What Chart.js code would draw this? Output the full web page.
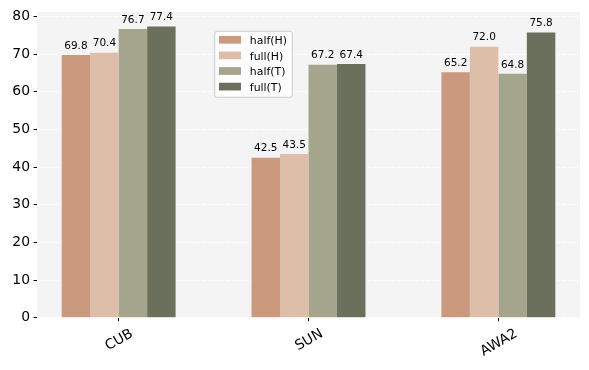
<!DOCTYPE html>
<html>
<head>
<meta charset="utf-8">
<script src="https://cdn.jsdelivr.net/npm/chart.js@4/dist/chart.umd.min.js"></script>
<style>
  html, body { margin: 0; padding: 0; background: #ffffff; }
  #wrap { width: 589px; height: 370px; }
</style>
</head>
<body>
<div id="wrap"><canvas id="c" width="589" height="370"></canvas></div>
<script>
// ---- data ----
const categories = ['CUB', 'SUN', 'AWA2'];
const seriesNames = ['half(H)', 'full(H)', 'half(T)', 'full(T)'];
const halfH = [69.8, 42.5, 65.2];
const fullH = [70.4, 43.5, 72.0];
const halfT = [76.7, 67.2, 64.8];
const fullT = [77.4, 67.4, 75.8];
const yTicks = [0, 10, 20, 30, 40, 50, 60, 70, 80];
const seriesColors = ['#CB997E', '#DDBEA9', '#A5A58D', '#6B705C'];

const seriesValues = [halfH, fullH, halfT, fullT];
const FONT = "'DejaVu Sans', sans-serif";

const datasets = seriesNames.map((name, s) => ({
  label: name,
  data: seriesValues[s].map((v, i) => ({ x: i, y: v })),
  backgroundColor: seriesColors[s],
  borderWidth: 0,
  categoryPercentage: 0.6,
  barPercentage: 1.0
}));

const plotBg = {
  id: 'plotBg',
  beforeDraw(chart) {
    const { ctx, chartArea: a } = chart;
    ctx.save();
    ctx.fillStyle = '#f4f4f4';
    ctx.fillRect(a.left, a.top, a.right - a.left, a.bottom - a.top);
    ctx.restore();
  }
};

const valueLabels = {
  id: 'valueLabels',
  afterDatasetsDraw(chart) {
    const ctx = chart.ctx;
    ctx.save();
    ctx.font = '10.5px ' + FONT;
    ctx.fillStyle = '#000';
    ctx.textAlign = 'center';
    ctx.textBaseline = 'alphabetic';
    chart.data.datasets.forEach((ds, di) => {
      const meta = chart.getDatasetMeta(di);
      meta.data.forEach((el, i) => {
        ctx.fillText(ds.data[i].y.toFixed(1), el.x, el.y - 6.3);
      });
    });
    ctx.restore();
  }
};

const xLabels = {
  id: 'xLabels',
  afterDraw(chart) {
    const ctx = chart.ctx;
    const xs = chart.scales.x;
    const size = 13.9;
    ctx.save();
    ctx.font = size + 'px ' + FONT;
    ctx.fillStyle = '#000';
    ctx.textAlign = 'center';
    ctx.textBaseline = 'alphabetic';
    const ang = 30 * Math.PI / 180;
    const asc = 0.928 * size, desc = 0.236 * size;
    const h = asc + desc;
    const top = chart.chartArea.bottom + 3.5 + 3.5;
    categories.forEach((lab, i) => {
      const w = ctx.measureText(lab).width;
      const H = w * Math.sin(ang) + h * Math.cos(ang);
      const cx = xs.getPixelForValue(i);
      const cy = top + H / 2;
      ctx.save();
      ctx.translate(cx, cy);
      ctx.rotate(-ang);
      ctx.fillText(lab, 0, (asc - desc) / 2);
      ctx.restore();
    });
    ctx.restore();
  }
};

const customLegend = {
  id: 'customLegend',
  afterDraw(chart) {
    const ctx = chart.ctx;
    const x0 = 214.7, y0 = 31.3, w = 77.6, hgt = 66;
    ctx.save();
    ctx.beginPath();
    const r = 2.5;
    ctx.moveTo(x0 + r, y0);
    ctx.arcTo(x0 + w, y0, x0 + w, y0 + hgt, r);
    ctx.arcTo(x0 + w, y0 + hgt, x0, y0 + hgt, r);
    ctx.arcTo(x0, y0 + hgt, x0, y0, r);
    ctx.arcTo(x0, y0, x0 + w, y0, r);
    ctx.closePath();
    ctx.fillStyle = 'rgba(255,255,255,0.8)';
    ctx.fill();
    ctx.lineWidth = 1;
    ctx.strokeStyle = '#cccccc';
    ctx.stroke();
    ctx.font = '10.9px ' + FONT;
    ctx.textAlign = 'left';
    ctx.textBaseline = 'alphabetic';
    chart.data.datasets.forEach((ds, i) => {
      const cy = 39.8 + i * 15.6;
      ctx.fillStyle = ds.backgroundColor;
      ctx.fillRect(219, cy - 3.85, 22, 7.7);
      ctx.fillStyle = '#000';
      ctx.fillText(ds.label, 249.8, cy + 4.3);
    });
    ctx.restore();
  }
};

new Chart(document.getElementById('c'), {
  type: 'bar',
  data: { datasets },
  options: {
    responsive: false,
    animation: false,
    devicePixelRatio: 1,
    layout: { padding: { left: 0, top: 10, right: 9, bottom: 0 } },
    plugins: { legend: { display: false }, tooltip: { enabled: false } },
    scales: {
      x: {
        type: 'linear',
        min: -0.43,
        max: 2.43,
        offset: false,
        border: { display: false },
        grid: {
          offset: false,
          drawOnChartArea: false,
          drawTicks: true,
          tickLength: 3.5,
          tickColor: '#000',
          tickWidth: 1
        },
        ticks: { display: false },
        afterBuildTicks(scale) {
          scale.ticks = categories.map((_, i) => ({ value: i }));
        },
        afterFit(scale) { scale.height = 52.3; }
      },
      y: {
        type: 'linear',
        min: 0,
        max: 81.27,
        border: { display: false, dash: [4.1, 1.8] },
        grid: {
          color: '#ffffff',
          lineWidth: 0.8,
          tickLength: 3.5,
          tickColor: '#000',
          tickWidth: 1,
          tickBorderDash: []
        },
        ticks: {
          padding: 3.5,
          color: '#000',
          font: { family: FONT, size: 13.9 }
        },
        afterBuildTicks(scale) {
          scale.ticks = yTicks.map(v => ({ value: v }));
        },
        afterFit(scale) { scale.width = 37; }
      }
    }
  },
  plugins: [plotBg, valueLabels, xLabels, customLegend]
});
</script>
</body>
</html>
